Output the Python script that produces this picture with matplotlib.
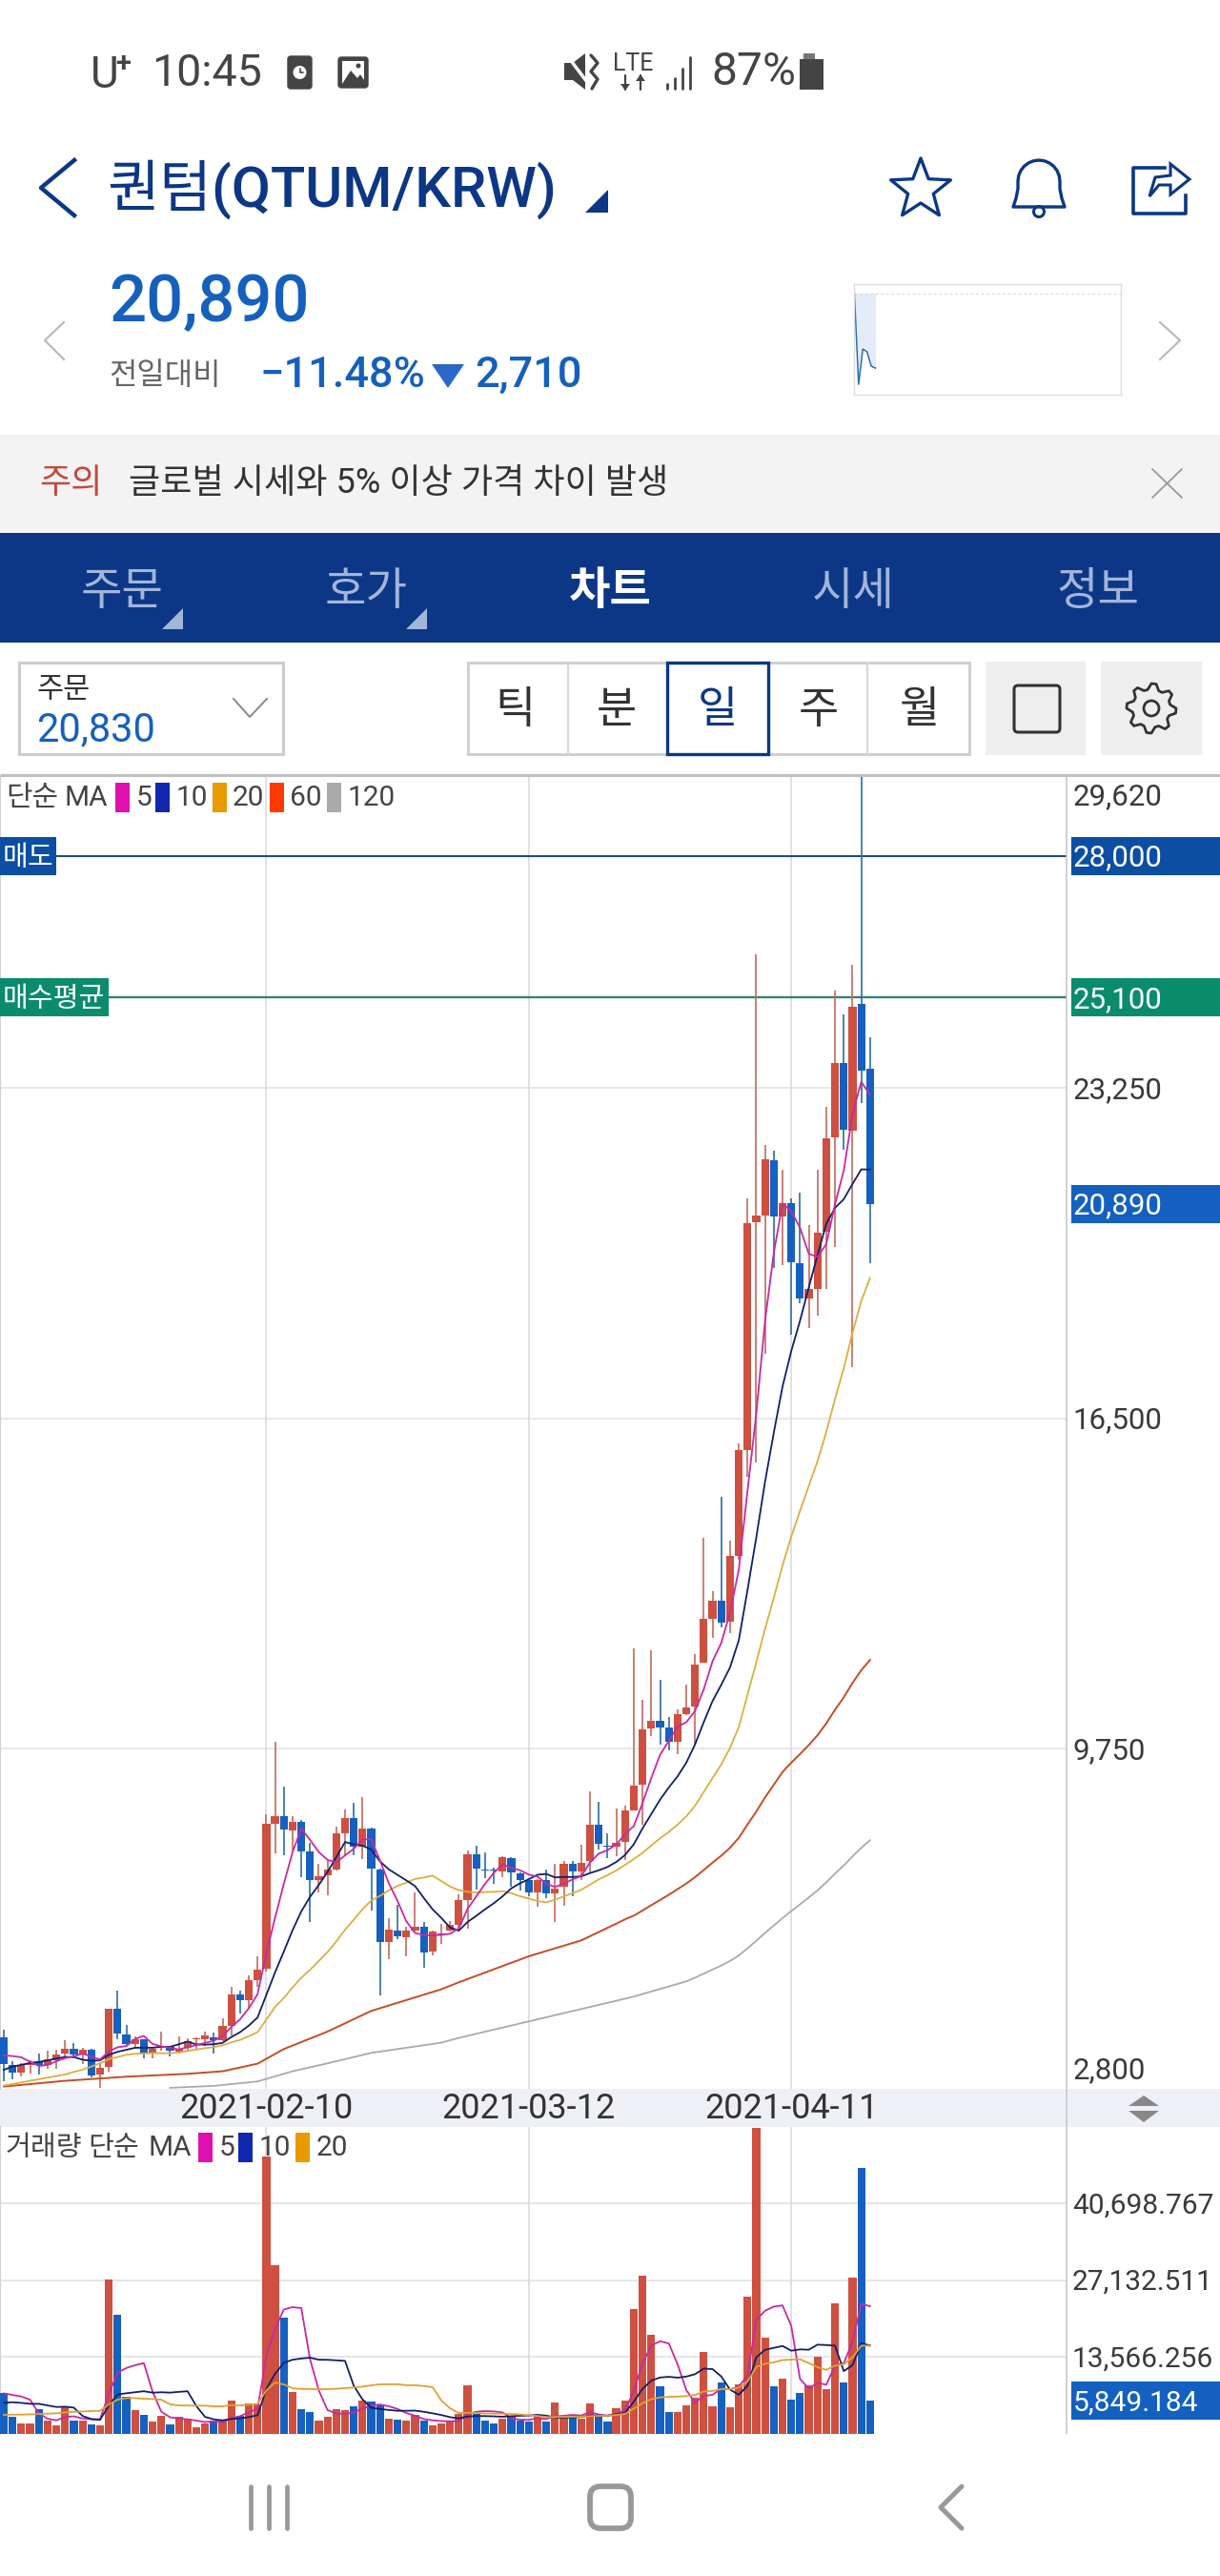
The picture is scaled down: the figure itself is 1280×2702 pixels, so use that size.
import math
import matplotlib
matplotlib.use("Agg")
import matplotlib.pyplot as plt
from matplotlib.patches import Rectangle, Polygon, FancyBboxPatch, Circle
from matplotlib.lines import Line2D

FONT = ['Roboto', 'Noto Sans CJK KR', 'DejaVu Sans']
plt.rcParams['font.family'] = FONT

# ---------------- data ----------------
dates_tick_pos = [30, 60, 90]
dates_tick_lab = ['2021-02-10', '2021-03-12', '2021-04-11']

opens = [3860,3290,3130,3290,3350,3280,3380,3520,3610,3500,
 3590,3090,3240,4430,3920,3710,3810,3530,3660,3650,
 3560,3630,3810,3810,3860,3800,4080,4720,4610,5030,
 5250,8220,8370,8080,8260,7650,7060,7170,7280,8030,
 8340,7740,8110,7290,5810,6040,5900,6030,6110,5610,
 5960,6030,6150,6650,7590,7290,7290,7250,7520,7200,
 7060,6810,7070,6800,6930,7390,7250,7450,8200,7770,
 7740,7850,8480,9020,10170,10320,10190,9900,10450,10610,
 11500,12400,12770,12340,13700,15860,20520,20650,21780,20630,
 20910,19670,18960,19150,20320,22240,23770,22390,24970,23640]
highs = [4000,3370,3330,3390,3530,3580,3600,3800,3730,3630,
 3610,3350,4440,4800,4100,3870,3820,3650,3960,3680,
 3870,3840,3850,3970,3940,4240,4880,4800,5120,5510,
 8410,9890,8970,8370,8290,7830,7390,7480,8150,8500,
 8650,8760,8130,7300,6280,6570,6110,6810,6210,6030,
 6180,6230,6780,7670,7760,7640,7320,7560,7530,7220,
 7070,7090,7280,7390,7460,7460,7780,8870,8660,8030,
 8520,8590,11810,10740,11760,11160,10400,10560,11070,11680,
 14070,12980,14900,14000,16000,21000,25980,22080,21980,21580,
 20990,21110,20450,21590,22860,25240,24760,25770,29620,24290]
lows = [2960,3000,3060,3110,3090,3210,3210,3430,3430,3300,
 3030,2820,3160,3820,3680,3610,3420,3420,3580,3470,
 3530,3580,3610,3680,3520,3780,3900,4330,4430,4880,
 5190,7610,7580,7670,7130,6210,6810,6760,7260,7580,
 7580,7500,6440,4700,5450,5850,5510,6020,5270,5530,
 5760,6020,6050,6080,6870,7110,6990,7120,6930,6860,
 6730,6520,6700,6210,6540,6730,7060,7220,7690,7510,
 7560,7480,8480,8190,10010,9830,9710,9640,10430,9840,
 11500,12020,12230,12120,13610,15310,15600,17830,19570,19630,
 18220,18850,18350,18610,19150,20000,22000,17540,22950,19680]
closes = [3300,3130,3290,3330,3290,3400,3510,3610,3500,3590,
 3080,3220,4430,3930,3710,3810,3530,3610,3680,3580,
 3610,3780,3830,3890,3800,4080,4720,4610,5020,5240,
 8220,8380,8090,8250,7650,7060,7150,7280,8020,8340,
 7740,8110,7300,5810,6050,5920,6040,6110,5590,6020,
 5980,6150,6650,7590,7300,7260,7270,7530,7220,7060,
 6810,7070,6800,6890,7390,7250,7410,8190,7800,7740,
 7830,8480,9000,10140,10320,10190,9900,10460,10590,11470,
 12410,12770,12330,13690,15850,20500,20640,21790,20630,20910,
 19690,18960,19140,20300,22230,23760,22410,24910,23600,20890]

ma5 = [3483,3470,3445,3353,3268,3288,3364,3428,3462,3522,
 3458,3400,3564,3650,3674,3820,3882,3718,3668,3642,
 3602,3652,3696,3738,3782,3876,4064,4220,4446,4734,
 5562,6294,6990,7636,8118,7886,7640,7478,7432,7570,
 7706,7898,7902,7460,7002,6638,6224,5986,5942,5936,
 5948,5970,6078,6478,6734,6990,7214,7390,7316,7268,
 7178,7138,6992,6926,6992,7080,7148,7426,7608,7678,
 7794,8008,8170,8638,9154,9626,9910,10202,10292,10522,
 10966,11540,11914,12534,13410,15028,16602,18494,19882,20894,
 20732,20396,19866,19800,20064,20878,21568,22722,23382,23114]
ma10 = [3190,3256,3290,3330,3350,3380,3420,3450,3450,3395,
 3373,3382,3496,3556,3598,3639,3641,3641,3659,3658,
 3711,3767,3707,3703,3712,3739,3858,3958,4092,4258,
 4719,5179,5605,6041,6426,6724,6967,7234,7534,7844,
 7796,7769,7690,7446,7286,7172,7061,6944,6701,6469,
 6293,6097,6032,6210,6335,6469,6592,6734,6897,7001,
 7084,7176,7191,7121,7130,7129,7143,7209,7267,7335,
 7437,7578,7798,8123,8416,8710,8959,9186,9465,9838,
 10296,10725,11058,11413,11966,12997,14071,15204,16208,17152,
 17880,18499,19180,19841,20479,20805,20982,21294,21591,21589]
ma20 = [2866,2899,2931,2964,2996,3029,3061,3094,3146,3191,
 3256,3321,3405,3451,3496,3516,3522,3529,3529,3527,
 3542,3575,3602,3630,3655,3689,3750,3800,3876,3958,
 4215,4473,4656,4872,5069,5232,5413,5596,5813,6051,
 6258,6474,6648,6744,6856,6948,7014,7089,7118,7157,
 7045,6933,6861,6828,6811,6821,6827,6839,6799,6735,
 6689,6637,6612,6666,6733,6799,6868,6972,7082,7168,
 7261,7377,7495,7622,7773,7920,8051,8198,8366,8587,
 8867,9152,9428,9768,10191,10854,11515,12195,12837,13495,
 14088,14612,15119,15627,16223,16901,17527,18249,18900,19371]
ma60_idx = [0,7,14,21,25,29,32,37,42,50,52,60,66,70,71,72,73,74,75,76,77,78,79,
            80,81,82,83,84,85,86,87,88,89,90,91,92,93,94,95,96,97,98,99]
ma60_val = [2847,2964,3048,3107,3159,3314,3613,3970,4393,4834,4977,5509,5834,6176,6264,6340,6444,6554,6660,6766,6880,6995,7126,
            7273,7423,7565,7728,7929,8203,8468,8754,9014,9275,9466,9642,9826,10027,10270,10548,10802,11096,11356,11565]
ma120_idx = [19,24,29,33,37,42,50,52,60,72,78,79,80,81,82,83,84,85,86,87,88,89,90,91,92,93,94,95,96,97,98,99]
ma120_val = [2821,2860,2951,3159,3321,3535,3743,3841,4178,4685,4996,5071,5153,5238,5320,5413,5524,5674,5825,5986,6137,6290,6433,6570,6709,6857,7021,7198,7364,7551,7727,7880]

volumes = [7176,2971,1850,1850,4373,2411,1570,4821,2411,2411,
 1738,1570,27357,21023,6615,4205,3420,2242,3139,1738,
 3083,2691,1177,1850,2298,2411,5886,3251,5326,5214,
 49109,29824,20518,7400,4373,3924,2298,3083,4373,4205,
 4933,5886,5774,5214,2691,2523,2298,3364,2298,1570,
 1850,2130,3532,8577,3532,2411,1850,2691,3251,2411,
 2242,3251,2130,5494,2971,2971,2691,5326,3139,2130,
 4541,5886,22144,27918,17547,8465,3924,3812,5045,6335,
 14463,4933,9138,4653,8689,24274,54098,17098,8465,9698,
 6054,7288,8577,13623,7961,23153,9138,27638,47090,5849]
vma5 = [7176,6895,6615,6054,3644,2691,2411,3005,3117,2725,
 2590,2590,7097,10820,11661,12154,12524,7501,3924,2949,
 2724,2579,2366,2108,2220,2085,2724,3139,3834,4418,
 13757,18545,21998,22413,22245,13208,7703,4216,3610,3577,
 3778,4496,5034,5202,4900,4418,3700,3218,2635,2411,
 2276,2242,2276,3532,3924,4036,3980,3812,2747,2523,
 2489,2769,2657,3106,3218,3363,3251,3891,3420,3251,
 3565,4204,7568,12524,15607,16392,16000,12333,7759,5516,
 6716,6918,7983,7904,8375,10337,20170,21762,22525,22727,
 19083,9721,8016,9048,8701,12120,12490,16303,22996,22574]
vma10 = [5494,5606,5494,5326,5326,5045,4765,4821,4653,3185,
 2640,2500,5051,6968,7193,7372,7557,7299,7372,7305,
 7439,7551,4933,3016,2584,2404,2651,2752,2971,3319,
 7921,10634,12568,13123,13331,13482,13124,13107,13011,12911,
 8493,6099,4625,4406,4238,4098,4098,4126,3918,3655,
 3347,2971,2747,3083,3167,3156,3111,3044,3139,3223,
 3262,3374,3234,2926,2870,2926,3010,3274,3263,3234,
 3464,3727,5729,7972,9429,9978,10102,9950,10141,10561,
 11554,11459,10158,7831,6945,8526,13544,14872,15214,15551,
 14710,14945,14889,15786,15714,15601,11105,12159,16022,15637]
vma20 = [3364,3420,3420,3476,3532,3588,3644,3812,3924,3980,
 4036,4092,5214,6054,6335,6335,6223,6167,6054,5245,
 5040,5026,4992,4992,4889,4888,5104,5026,5172,5312,
 7680,9093,8751,8070,7958,7943,7888,7930,7991,8115,
 8207,8367,8597,8765,8785,8790,8611,8617,8465,8283,
 5920,4535,3686,3745,3703,3627,3605,3585,3529,3439,
 3305,3173,2991,3005,3019,3041,3061,3159,3201,3229,
 3363,3551,4482,5449,6150,6452,6556,6612,6702,6898,
 7509,7593,7944,7902,8187,9252,11823,12411,12678,13056,
 13132,13202,12524,11809,11330,12064,12325,13516,15618,15594]

price_ticks = [29620, 23250, 16500, 9750, 2800]
price_grid = [23250, 16500, 9750]
vol_grid = [13566.256, 27132.511, 40698.767]
sell_level, avg_level, last_price = 28000, 25100, 20890
last_vol = 5849.184
spark_x = [0, 1, 2, 3, 4, 5]
spark_y = [23600, 21210, 22135, 22060, 21685, 21635]

# ---------------- colours ----------------
RED, BLUE = '#cd5040', '#1560c0'
WRED, WBLUE = '#c26a5e', '#2d6ca4'
C5, C10, C20, C60, C120 = '#c828a8', '#111f6c', '#dcae40', '#c64d24', '#aaaaaa'
NAVY = '#0b3786'
W, H = 1280, 2702

fig = plt.figure(figsize=(W/100, H/100), dpi=100, facecolor='white')

def rect(x0, y0, x1, y1):
    return [x0/W, 1-y1/H, (x1-x0)/W, (y1-y0)/H]

# chrome axes in pixels
bg = fig.add_axes([0, 0, 1, 1], zorder=0)
bg.set_xlim(0, W); bg.set_ylim(H, 0); bg.axis('off')
top = fig.add_axes([0, 0, 1, 1], zorder=10)
top.set_xlim(0, W); top.set_ylim(H, 0); top.axis('off'); top.patch.set_alpha(0)

def T(x, y, s, size, color='#333333', ha='left', va='center', weight='normal', ax=None):
    return (ax or bg).text(x, y+2, s, fontsize=size, color=color, ha=ha, va=va,
                           fontweight=weight, family=FONT)
def R(x0, y0, x1, y1, fc='none', ec='none', lw=0, ax=None, z=1):
    (ax or bg).add_patch(Rectangle((x0, y0), x1-x0, y1-y0, facecolor=fc, edgecolor=ec, linewidth=lw, zorder=z))
def L(xs, ys, color, lw, ax=None, cap='round'):
    (ax or bg).add_line(Line2D(xs, ys, color=color, lw=lw, solid_capstyle=cap, solid_joinstyle='round'))

# status bar
G = '#444444'
T(95, 77, 'U', 33, G)
T(121, 65, '+', 21, G, weight='bold')
T(159, 75, '10:45', 33.5, G)
bg.add_patch(FancyBboxPatch((302, 59), 25, 34, boxstyle='round,pad=0,rounding_size=3', fc=G, ec=G, lw=1))
bg.add_patch(Circle((314.5, 76), 7, fc='white', ec='none'))
L([314.5, 314.5, 318], [72, 76, 76], G, 1.2)
bg.add_patch(FancyBboxPatch((355, 60), 31, 32, boxstyle='round,pad=0,rounding_size=3', fc=G, ec=G, lw=1))
R(359, 64, 382, 88, fc='white')
bg.add_patch(Polygon([[359, 88], [368, 74], [375, 82], [378, 78], [382, 84], [382, 88]], fc=G))
bg.add_patch(Circle((376, 69), 2.5, fc=G))
bg.add_patch(Polygon([[592, 66], [601, 66], [614, 56], [614, 94], [601, 84], [592, 84]], fc=G))
L([594, 622], [57, 94], 'white', 2.5)
L([620, 627, 620, 627, 621], [58, 66, 75, 83, 93], G, 2.4)
T(664.5, 65, 'LTE', 18, G, ha='center')
L([656, 656], [79, 94], G, 1.6); L([672, 672], [79, 94], G, 1.6)
bg.add_patch(Polygon([[651, 88], [661, 88], [656, 95]], fc=G))
bg.add_patch(Polygon([[667, 85], [677, 85], [672, 78]], fc=G))
for bx, by in zip([700, 708, 716, 724], [88, 82, 72, 60]):
    L([bx, bx], [by, 93], G, 2)
T(746, 74, '87%', 34.5, G)
R(843, 56, 855, 62, fc='#777777')
R(839, 62, 864, 94, fc=G)

# header
bg.add_line(Line2D([78, 43, 78], [168, 197, 226], color=NAVY, lw=3.2))
T(112, 197, '퀀텀(QTUM/KRW)', 43, NAVY, weight='medium')
bg.add_patch(Polygon([[638, 199], [638, 223], [614, 223]], fc=NAVY))
star = []
for k in range(10):
    r = 33 if k % 2 == 0 else 14
    a = math.radians(-90 + 36*k)
    star.append([966 + r*math.cos(a), 199 + r*math.sin(a)])
bg.add_patch(Polygon(star, fc='none', ec=NAVY, lw=2.4, joinstyle='round'))
dome = [[1090 + 22*math.cos(math.radians(t)), 190 + 22*math.sin(math.radians(t))] for t in range(180, 361, 15)]
bell = [[1063, 217], [1066, 208], [1068, 198]] + dome + [[1112, 198], [1114, 208], [1117, 217]]
bg.add_patch(Polygon(bell, closed=True, fc='none', ec=NAVY, lw=2.4, joinstyle='round'))
bg.add_patch(Circle((1090, 222), 5.5, fc='white', ec=NAVY, lw=2.2, zorder=0.5))
bg.add_line(Line2D([1222, 1189, 1189, 1244, 1244], [176, 176, 224, 224, 205], color=NAVY, lw=2.6, solid_joinstyle='round'))
bg.add_patch(Polygon([[1206, 206], [1212, 186], [1228, 184], [1228, 172], [1248, 188], [1228, 204], [1228, 194], [1216, 194]], fc='white', ec=NAVY, lw=2.2))

T(114, 316, '20,890', 49.5, '#1560bd', weight='medium')
bg.add_line(Line2D([67, 47, 67], [338, 357, 377], color='#bbbbbb', lw=1.6))
bg.add_line(Line2D([1217, 1238, 1217], [338, 357, 377], color='#bbbbbb', lw=1.6))
T(114, 392, '전일대비', 23, '#666666')
T(273, 392, '\u221211.48%', 32.5, '#1560bd', weight='medium')
bg.add_patch(Polygon([[453, 382], [487, 382], [470, 407]], fc='#2a68c8'))
T(498, 392, '2,710', 32.5, '#1560bd', weight='medium')

# sparkline
sp = fig.add_axes(rect(895.5, 298, 1175.5, 414), zorder=2)
sp.set_xlim(-0.2, 63); sp.set_ylim(20938, 23838)
sp.set_xticks([]); sp.set_yticks([])
for s in sp.spines.values():
    s.set_color('#dddddd'); s.set_linewidth(1)
sp.axhline(23600, color='#dddddd', lw=1, ls=(0, (2, 2)))
sp.fill_between(spark_x, spark_y, 23600, color='#e3ecf8', lw=0)
sp.plot(spark_x, spark_y, color='#2a6fa8', lw=1.1)

# notice bar
R(0, 456, W, 559, fc='#f3f3f3')
T(41, 505, '주의', 26, '#c24a3e', weight='medium')
T(135, 505, '글로벌 시세와 5% 이상 가격 차이 발생', 26, '#333333')
L([1209, 1240], [492, 522], '#999999', 1.3); L([1240, 1209], [492, 522], '#999999', 1.3)

# nav bar
R(0, 559, W, 674, fc=NAVY)
INACT = '#a3b5d8'
for cx, s, c, wt in zip([128, 384, 640, 895.5, 1152], ['주문', '호가', '차트', '시세', '정보'],
                        [INACT, INACT, 'white', INACT, INACT],
                        ['normal', 'normal', 'bold', 'normal', 'normal']):
    T(cx, 619, s, 34, c, ha='center', weight=wt)
for x0 in [170, 426]:
    bg.add_patch(Polygon([[x0+22, 638], [x0+22, 660], [x0, 660]], fc=INACT))

# selector row
R(20, 695, 297, 791, fc='white', ec='#cccccc', lw=2.2)
T(38, 722, '주문', 22, '#333333')
T(38, 764, '20,830', 30, '#1560bd')
bg.add_line(Line2D([245, 262, 280], [733, 752, 733], color='#888888', lw=1.4))
R(491, 695, 1017, 791, fc='white', ec='#d0d0d0', lw=2.2)
L([596, 596], [695, 791], '#d8d8d8', 1.6); L([910, 910], [695, 791], '#d8d8d8', 1.6)
R(700, 695, 806, 791, fc='white', ec=NAVY, lw=2.4, z=2)
for cx, s, c in zip([540, 647, 753, 859, 965], ['틱', '분', '일', '주', '월'],
                    ['#333333', '#333333', NAVY, '#333333', '#333333']):
    t = T(cx, 743, s, 33, c, ha='center', weight='medium'); t.set_zorder(3)
R(1034, 694, 1139, 792, fc='#eeeeee'); R(1155, 694, 1261, 792, fc='#eeeeee')
bg.add_patch(FancyBboxPatch((1064, 719), 48, 49, boxstyle='round,pad=0,rounding_size=4', fc='none', ec='#333333', lw=2.2, zorder=2))
gear = []
for k in range(32):
    a = math.radians(360*k/32)
    r = 26 if (k % 4) in (0, 1) else 20
    gear.append([1208 + r*math.cos(a), 743 + r*math.sin(a)])
bg.add_patch(Polygon(gear, fc='none', ec='#333333', lw=2, joinstyle='round', zorder=2))
bg.add_patch(Circle((1208, 743), 8, fc='none', ec='#333333', lw=2, zorder=2))

# ---------------- price panel ----------------
XL, XR = -4/9.18, (1119-4)/9.18
ax = fig.add_axes(rect(0, 814.5, 1119, 2191), zorder=3)
ax.patch.set_alpha(0)
ax.set_xlim(XL, XR); ax.set_ylim(2800, 29620)
xs = list(range(len(closes)))
for g in price_grid:
    ax.axhline(g, color='#e2e2e2', lw=1.1, zorder=1)
for p in dates_tick_pos:
    ax.axvline(p, color='#d9d9d9', lw=1.1, zorder=1)
ax.axhline(sell_level, color='#1d4e84', lw=1.5, zorder=2)
ax.axhline(avg_level, color='#2f8478', lw=1.7, zorder=2)
cols = [BLUE if c < o else RED for o, c in zip(opens, closes)]
wcols = [WBLUE if c < o else WRED for o, c in zip(opens, closes)]
ax.vlines(xs, lows, highs, colors=wcols, lw=1.2, zorder=3)
ax.bar(xs, [abs(c-o) for o, c in zip(opens, closes)],
       bottom=[min(o, c) for o, c in zip(opens, closes)],
       width=8.2/9.18, color=cols, lw=0, zorder=4)
ax.plot(ma120_idx, ma120_val, color=C120, lw=1.3, zorder=5)
ax.plot(ma60_idx, ma60_val, color=C60, lw=1.4, zorder=5)
ax.plot(xs, ma20, color=C20, lw=1.3, zorder=5)
ax.plot(xs, ma10, color=C10, lw=1.3, zorder=6)
ax.plot(xs, ma5, color=C5, lw=1.3, zorder=7)
for s in ['top', 'bottom', 'right']:
    ax.spines[s].set_visible(False)
ax.spines['left'].set_color('#d0d0d0'); ax.spines['left'].set_linewidth(1.5)
ax.set_xticks([]); ax.set_yticks([])
# right axis line and top border
L([0, W], [813, 813], '#c0c0c0', 2.2, ax=top, cap='butt')
L([1119, 1119], [814, 2553], '#c4c4c4', 1.1, ax=top, cap='butt')

def py(a, v):
    return H - a.transData.transform((0, v))[1]

# labels on the right scale
for v, off in zip(price_ticks, [19, 0, 0, 0, -21]):
    T(1125.5, py(ax, v)+off, f'{v:,}', 22.5, '#3a3a3a', ax=top)

def box(a, v, text, fc, label=None, lbl_w=0):
    y = py(a, v)
    R(1124, y-20, W, y+20, fc=fc, ax=top)
    T(1126, y, text, 22.5 if a is ax else 21.5, 'white', ax=top)
    if label:
        R(0, y-20, lbl_w, y+20, fc=fc, ax=top)
        T(lbl_w/2, y, label, 21, 'white', ha='center', ax=top, weight='medium')

box(ax, sell_level, f'{sell_level:,}', '#0c4ea2', '매도', 58.5)
box(ax, avg_level, f'{avg_level:,}', '#0a8c6c', '매수평균', 113.5)
box(ax, last_price, f'{last_price:,}', '#1360c0')

# price legend
T(6, 835, '단순', 21.5, '#444444', ax=top)
T(68, 835, 'MA', 21.5, '#444444', ax=top)
for sx, tx, c, lab in zip([121, 163, 223, 283, 343], [143, 185, 244, 304, 365],
                          ['#e010b0', '#1028b0', '#e89a00', '#ff3a00', '#aaaaaa'],
                          ['5', '10', '20', '60', '120']):
    R(sx, 821, sx+15, 852, fc=c, ax=top)
    T(tx, 835, lab, 21.5, '#444444', ax=top)

# date band
R(0, 2191, W, 2231, fc='#eef0f5', ax=bg)
for p, lab in zip(dates_tick_pos, dates_tick_lab):
    T(4+9.18*p, 2210, lab, 26, '#333333', ha='center', ax=top)
top.add_patch(Polygon([[1184, 2209], [1216, 2209], [1200, 2198]], fc='#888888'))
top.add_patch(Polygon([[1184, 2214], [1216, 2214], [1200, 2226]], fc='#888888'))

# ---------------- volume panel ----------------
av = fig.add_axes(rect(0, 2231, 1119, 2553), zorder=3)
av.patch.set_alpha(0)
av.set_xlim(XL, XR); av.set_ylim(0, 54265)
for g in vol_grid:
    av.axhline(g, color='#e2e2e2', lw=1.2, zorder=1)
for p in dates_tick_pos:
    av.axvline(p, color='#d9d9d9', lw=1.1, zorder=1)
av.bar(xs, volumes, width=8.2/9.18, color=cols, lw=0, zorder=3)
av.plot(xs, vma5, color=C5, lw=1.3, zorder=5)
av.plot(xs, vma10, color=C10, lw=1.3, zorder=6)
av.plot(xs, vma20, color='#e4a030', lw=1.3, zorder=7)
for s in ['top', 'bottom', 'right']:
    av.spines[s].set_visible(False)
av.spines['left'].set_color('#d0d0d0'); av.spines['left'].set_linewidth(1.5)
av.set_xticks([]); av.set_yticks([])

for v in vol_grid:
    T(1125, py(av, v), f'{v:,.3f}', 21.5, '#3a3a3a', ax=top)
y = py(av, last_vol)
R(1124, y-20, W, y+20, fc='#1360c0', ax=top)
T(1126, y, f'{last_vol:,.3f}', 21.5, 'white', ax=top)

T(6, 2251, '거래량', 21, '#444444', ax=top)
T(92, 2251, '단순', 21, '#444444', ax=top)
T(156, 2251, 'MA', 21.5, '#444444', ax=top)
for sx, tx, c, lab in zip([208, 250, 310], [230, 272, 332],
                          ['#e010b0', '#1028b0', '#e89a00'], ['5', '10', '20']):
    R(sx, 2237, sx+15, 2268, fc=c, ax=top)
    T(tx, 2251, lab, 21.5, '#444444', ax=top)

# bottom nav
for x0 in [263, 282, 301]:
    L([x0, x0], [2608, 2652], '#999999', 3.4)
bg.add_patch(FancyBboxPatch((619, 2608), 43, 44, boxstyle='round,pad=0,rounding_size=11', fc='none', ec='#999999', lw=4.2))
bg.add_line(Line2D([1009, 987, 1009], [2608, 2630, 2652], color='#999999', lw=3.6, solid_capstyle='round', solid_joinstyle='round'))

fig.savefig('out.png', dpi=100, facecolor='white')
